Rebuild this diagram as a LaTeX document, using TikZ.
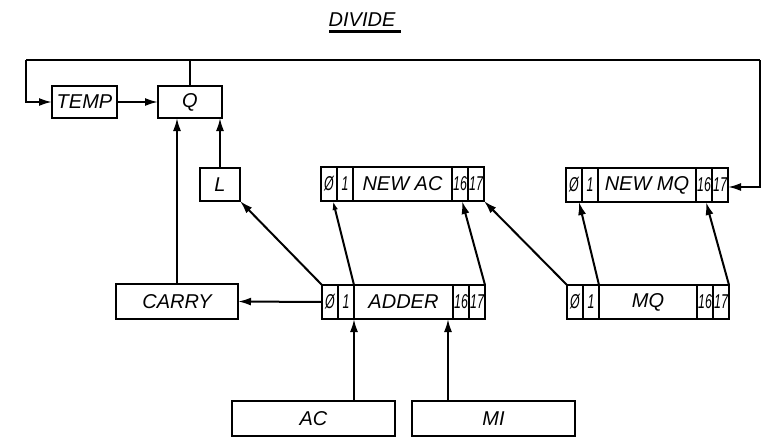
\documentclass[tikz,border=0pt]{standalone}
\usepackage{fontspec}
\usepackage{graphicx}
\setmainfont{Liberation Sans}
\usetikzlibrary{arrows.meta,calc}
\begin{document}
\begin{tikzpicture}[x=1pt,y=-1pt,
  box/.style={draw,line width=2.4pt,inner sep=0pt,outer sep=0pt,font=\fontsize{20}{20}\selectfont\itshape},
  cell/.style={draw,line width=2.4pt,inner sep=0pt,outer sep=0pt,anchor=north west,minimum height=34pt,font=\fontsize{20}{20}\selectfont\itshape},
  dig/.style={cell,minimum width=16pt},
  arr/.style={line width=2pt,-{Latex[length=13pt,width=8pt]}},
  oarr/.style={line width=2pt,-{Latex[open,length=9pt,width=5.5pt]}},
  ln/.style={line width=2pt}]
\useasboundingbox (0,0) rectangle (769,445);
\newcommand{\sd}[1]{\scalebox{0.62}[1]{#1}}
% title
\node[font=\fontsize{20}{20}\selectfont\itshape] (title) at (362,20) {DIVIDE};
\draw[line width=2.2pt] ($(title.south west)+(4,1)$) -- ($(title.south east)+(2,1)$);
% simple boxes
\node[box,minimum width=65pt,minimum height=32pt] (temp) at (84.5,102) {TEMP};
\node[box,minimum width=64pt,minimum height=32pt] (q) at (190,102) {Q};
\node[box,minimum width=40pt,minimum height=33pt] (l) at (220,184.5) {L};
\node[box,minimum width=122pt,minimum height=35pt] (carry) at (177,301.5) {CARRY};
\node[box,minimum width=163pt,minimum height=35pt] (ac) at (313.5,418.5) {AC};
\node[box,minimum width=163pt,minimum height=35pt] (mi) at (493.5,418.5) {MI};
% NEW AC register
\node[dig] (na0) at (321,167) {\sd{Ø}};
\node[dig] (na1) at (na0.north east) {\sd{1}};
\node[cell,minimum width=99pt] (naM) at (na1.north east) {NEW AC};
\node[dig] (na16) at (naM.north east) {\sd{16}};
\node[dig] (na17) at (na16.north east) {\sd{17}};
% ADDER register
\node[dig] (ad0) at (322,285) {\sd{Ø}};
\node[dig] (ad1) at (ad0.north east) {\sd{1}};
\node[cell,minimum width=99pt] (adM) at (ad1.north east) {ADDER};
\node[dig] (ad16) at (adM.north east) {\sd{16}};
\node[dig] (ad17) at (ad16.north east) {\sd{17}};
% NEW MQ register
\node[dig] (nm0) at (566,168) {\sd{Ø}};
\node[dig] (nm1) at (nm0.north east) {\sd{1}};
\node[cell,minimum width=98pt] (nmM) at (nm1.north east) {NEW MQ};
\node[dig] (nm16) at (nmM.north east) {\sd{16}};
\node[dig] (nm17) at (nm16.north east) {\sd{17}};
% MQ register
\node[dig] (mq0) at (567,285) {\sd{Ø}};
\node[dig] (mq1) at (mq0.north east) {\sd{1}};
\node[cell,minimum width=98pt] (mqM) at (mq1.north east) {MQ};
\node[dig] (mq16) at (mqM.north east) {\sd{16}};
\node[dig] (mq17) at (mq16.north east) {\sd{17}};
% top loop
\coordinate (tl) at (26,60);
\coordinate (tr) at (760,60);
\draw[ln] (tl) -- (tr);
\draw[ln] (q.north) -- (q.north |- tl);
\draw[arr] (tl) |- (temp.west);
\draw[arr] (tr) |- ($(nm17.east)+(0,2)$);
% Q inputs
\draw[arr] (temp.east) -- (q.west);
\draw[arr] (carry.north) -- (carry.north |- q.south);
\draw[arr] (l.north) -- (l.north |- q.south);
% diagonals
\draw[arr] (ad0.north west) -- (l.south east);
\draw[oarr] (ad1.north east) -- ($(na0.south)+(4,0)$);
\draw[arr] (ad17.north east) -- ($(na16.south)+(2,0)$);
\draw[arr] (mq0.north west) -- (na17.south east);
\draw[arr] (mq1.north east) -- ($(nm0.south)+(5,0)$);
\draw[arr] (mq17.north east) -- ($(nm16.south)+(2,0)$);
% carry
\draw[arr] (ad0.west) -- (carry.east);
% inputs from AC and MI
\draw[arr] (ad1.south east |- ac.north) -- (ad1.south east);
\coordinate (mip) at ($(mi.north)+(-45.5,0)$);
\draw[arr] (mip) -- (mip |- adM.south);
\end{tikzpicture}
\end{document}
